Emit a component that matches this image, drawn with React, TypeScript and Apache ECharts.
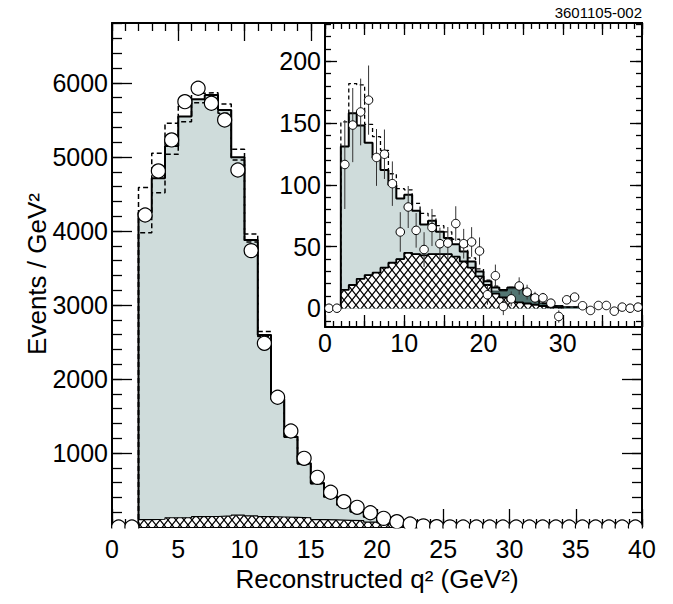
import React, { useEffect, useRef } from "react";
import * as echarts from "echarts";

const FONT = "'Liberation Sans', Arial, Helvetica, sans-serif";

// Bins are 1 GeV^2 wide: index k is the bin [k, k+1].
const mainData = [
  0, 0, 4216, 4811, 5230, 5747, 5928, 5726, 5500, 4824,
  3734, 2482, 1753, 1297, 928, 671, 469, 342, 266, 193,
  117, 72, 40, 15, 4, 2, 0, 0, 0, 0,
  0, 0, 0, 0, 0, 0, 0, 0, 0, 0,
];
const mainTotal = [
  0, 0, 4250, 4712, 5149, 5545, 5780, 5838, 5635, 4996,
  3878, 2595, 1730, 1221, 860, 590, 410, 297, 207, 140,
  81, 42, 20, 9, 4, 2, 0, 0, 0, 0,
  0, 0, 0, 0, 0, 0, 0, 0, 0, 0,
];
const mainUpper = [
  0, 0, 4586, 5050, 5455, 5725, 5860, 5869, 5716, 5104,
  3959, 2640, 1760, 1240, 875, 600, 418, 302, 211, 143,
  83, 43, 21, 10, 4, 2, 0, 0, 0, 0,
  0, 0, 0, 0, 0, 0, 0, 0, 0, 0,
];
const mainLower = [
  0, 0, 3977, 4518, 5036, 5477, 5734, 5790, 5590, 4960,
  3850, 2575, 1720, 1212, 852, 584, 405, 293, 204, 138,
  80, 41, 19, 9, 4, 2, 0, 0, 0, 0,
  0, 0, 0, 0, 0, 0, 0, 0, 0, 0,
];
const mainBkg = [
  0, 0, 100, 105, 125, 128, 140, 142, 150, 160,
  150, 140, 135, 130, 125, 100, 95, 90, 85, 65,
  55, 30, 10, 0, 0, 0, 0, 0, 0, 0,
  0, 0, 0, 0, 0, 0, 0, 0, 0, 0,
];

const insetData = [
  0.2, 0.2, 116.5, 148.4, 159, 168.6, 122.2, 124.8, 101, 61.9,
  82.1, 63.2, 47.7, 65.5, 52.4, 52.9, 68.7, 52.4, 53.8, 46.5,
  11.1, 26.5, 1.6, 7.8, 18.2, 13.2, 8.5, 8.6, 4.3, -6.5,
  7.0, 9.2, 2.2, -1.6, 2.4, 2.4, -2.2, 1.1, 0.2, 1.1,
];
const insetErr = [
  0, 0, 36, 30, 27, 28, 23, 20, 18, 16,
  17, 14, 14, 15, 13, 13, 14, 12, 12, 11,
  8, 9, 7, 6, 7, 6, 5, 4, 3, 5,
  0, 0, 0, 0, 0, 0, 0, 0, 0, 0,
];
const insetTotal = [
  0, 0, 131, 158, 148, 134, 122, 112, 100, 89,
  92, 79, 68, 71, 62, 57, 52, 46, 38, 30,
  22, 17, 15, 17, 17, 12, 7, 4, 2, 2,
  1, 1, 1, 0, 0, 0, 0, 0, 0, 0,
];
const insetUpper = [
  0, 0, 151, 182, 181, 149, 139, 128, 109, 97,
  96, 85, 77, 75, 67, 62, 56, 50, 41, 32,
  23, 18, 15, 17, 17, 12, 7, 4, 2, 2,
  1, 1, 1, 0, 0, 0, 0, 0, 0, 0,
];
const insetBkg = [
  0, 0, 15, 19, 24, 27, 29, 33, 37, 40,
  45, 44, 43, 44, 44, 44, 42, 38, 33, 26,
  19, 12, 9, 6, 5, 4, 3, 2, 1, 1,
  0, 0, 0, 0, 0, 0, 0, 0, 0, 0,
];
const insetTeal = [
  0, 0, 0, 0, 0, 0, 0, 0, 0, 0,
  0, 0, 0, 0, 0, 0, 0, 0, 0, 0,
  0, 2, 5, 10, 11, 7, 4, 2, 1, 1,
  1, 1, 1, 0, 0, 0, 0, 0, 0, 0,
];

const mainXLabels = [0, 5, 10, 15, 20, 25, 30, 35, 40];
const mainYLabels = [1000, 2000, 3000, 4000, 5000, 6000];
const insetXLabels = [0, 10, 20, 30];
const insetYLabels = [0, 50, 100, 150, 200];

const MAIN_YMAX = 6810;
const INSET_YMIN = -15;
const INSET_YMAX = 231;

const LIGHT = "#cfdcdb";
const TEAL = "#527572";

function range(a: number, b: number, step: number) {
  const out: number[] = [];
  for (let v = a; v <= b + 1e-9; v += step) out.push(v);
  return out;
}

function stepPoints(vals: number[], from: number, to: number) {
  const pts: number[][] = [[from, 0]];
  for (let k = from; k < to; k++) {
    pts.push([k, vals[k]], [k + 1, vals[k]]);
  }
  pts.push([to, 0]);
  return pts;
}

function makeHatch() {
  const c = document.createElement("canvas");
  c.width = 8;
  c.height = 10;
  const g = c.getContext("2d")!;
  g.fillStyle = "#fff";
  g.fillRect(0, 0, 8, 10);
  g.strokeStyle = "#000";
  g.lineWidth = 1.2;
  g.beginPath();
  g.moveTo(0, 0);
  g.lineTo(8, 10);
  g.moveTo(8, 0);
  g.lineTo(0, 10);
  g.stroke();
  return c;
}

const plainLabel = (v: number) => String(v);

function axis(
  gridIndex: number,
  position: string,
  min: number,
  max: number,
  ticks: number[],
  tickLen: number,
  showLine: boolean,
  labels?: number[],
  margin = 5
) {
  return {
    type: "value",
    gridIndex,
    position,
    min,
    max,
    axisLine: { show: showLine, onZero: false, lineStyle: { color: "#000", width: 2 } },
    axisTick: {
      show: true,
      inside: true,
      length: tickLen,
      customValues: ticks,
      lineStyle: { color: "#000", width: 1.3 },
    },
    axisLabel: labels
      ? {
          show: true,
          customValues: labels,
          formatter: plainLabel,
          color: "#000",
          fontSize: 25,
          fontFamily: FONT,
          margin,
        }
      : { show: false },
    splitLine: { show: false },
  };
}

export default function App() {
  const ref = useRef<HTMLDivElement>(null);

  useEffect(() => {
    const chart = echarts.init(ref.current!, null, { renderer: "svg" });
    const hatch = {
      image: makeHatch(),
      repeat: "repeat",
      imageWidth: 8,
      imageHeight: 10,
    };

    const lineBase = {
      type: "line",
      symbol: "none",
      showSymbol: false,
      silent: true,
      animation: false,
    };

    const mainX: any = axis(0, "bottom", 0, 40, mainXLabels, 18, true, mainXLabels, 9);
    mainX.name = "Reconstructed q² (GeV²)";
    mainX.nameLocation = "middle";
    mainX.nameGap = 39;
    mainX.nameTextStyle = { fontSize: 26, fontFamily: FONT, color: "#000" };

    const xAxis = [
      mainX,
      axis(0, "bottom", 0, 40, range(0, 40, 1), 8, false),
      axis(0, "top", 0, 40, [0, 5, 10, 15], 18, true),
      axis(0, "top", 0, 40, range(0, 15, 1), 8, false),
      axis(1, "bottom", 0, 40, range(0, 40, 5), 12, true, insetXLabels, 3),
      axis(1, "bottom", 0, 40, range(0, 40, 1), 6, false),
      axis(1, "top", 0, 40, range(0, 40, 5), 12, true),
      axis(1, "top", 0, 40, range(0, 40, 1), 6, false),
    ];

    const yAxis = [
      axis(0, "left", 0, MAIN_YMAX, range(0, 6000, 1000), 20, true, mainYLabels, 4),
      axis(0, "left", 0, MAIN_YMAX, range(0, 6800, 200), 10, false),
      axis(0, "right", 0, MAIN_YMAX, [0, 1000, 2000], 20, true),
      axis(0, "right", 0, MAIN_YMAX, range(0, 2600, 200), 10, false),
      axis(1, "left", INSET_YMIN, INSET_YMAX, insetYLabels, 12, true, insetYLabels, 4),
      axis(1, "left", INSET_YMIN, INSET_YMAX, range(-10, 230, 10), 6, false),
      axis(1, "right", INSET_YMIN, INSET_YMAX, insetYLabels, 12, true),
      axis(1, "right", INSET_YMIN, INSET_YMAX, range(-10, 230, 10), 6, false),
    ];

    const insetStack = insetBkg.map((b, i) => b + insetTeal[i]);

    const series: any[] = [
      // main plot
      {
        ...lineBase,
        xAxisIndex: 0,
        yAxisIndex: 0,
        z: 2,
        data: stepPoints(mainTotal, 2, 26),
        lineStyle: { color: "#000", width: 2 },
        areaStyle: { color: LIGHT, opacity: 1 },
      },
      {
        ...lineBase,
        xAxisIndex: 0,
        yAxisIndex: 0,
        z: 3,
        data: stepPoints(mainBkg, 2, 23),
        lineStyle: { color: "#000", width: 1.2 },
        areaStyle: { color: hatch, opacity: 1 },
      },
      {
        ...lineBase,
        xAxisIndex: 0,
        yAxisIndex: 0,
        z: 4,
        data: stepPoints(mainUpper, 2, 26),
        lineStyle: { color: "#000", width: 1.5, type: [5, 3] },
      },
      {
        ...lineBase,
        xAxisIndex: 0,
        yAxisIndex: 0,
        z: 4,
        data: stepPoints(mainLower, 2, 26),
        lineStyle: { color: "#000", width: 1.5, type: [5, 3] },
      },
      {
        type: "scatter",
        xAxisIndex: 0,
        yAxisIndex: 0,
        z: 6,
        silent: true,
        symbol: "circle",
        symbolSize: 14,
        data: mainData.map((v, k) => [k + 0.5, v]),
        itemStyle: { color: "#fff", borderColor: "#000", borderWidth: 1.2, opacity: 1 },
      },
      // inset
      {
        ...lineBase,
        xAxisIndex: 4,
        yAxisIndex: 4,
        z: 2,
        data: stepPoints(insetTotal, 2, 33),
        lineStyle: { color: "#000", width: 2 },
        areaStyle: { color: LIGHT, opacity: 1 },
      },
      {
        ...lineBase,
        xAxisIndex: 4,
        yAxisIndex: 4,
        z: 3,
        data: stepPoints(insetStack, 2, 33),
        lineStyle: { color: "#1d2b2a", width: 1 },
        areaStyle: { color: TEAL, opacity: 1 },
      },
      {
        ...lineBase,
        xAxisIndex: 4,
        yAxisIndex: 4,
        z: 4,
        data: stepPoints(insetBkg, 2, 30),
        lineStyle: { color: "#000", width: 1.8 },
        areaStyle: { color: hatch, opacity: 1 },
      },
      {
        ...lineBase,
        xAxisIndex: 4,
        yAxisIndex: 4,
        z: 5,
        data: stepPoints(insetUpper, 2, 33),
        lineStyle: { color: "#000", width: 1.3, type: [4, 3] },
      },
      {
        type: "custom",
        xAxisIndex: 4,
        yAxisIndex: 4,
        z: 6,
        silent: true,
        data: insetData
          .map((v, k) => [k + 0.5, v, insetErr[k]])
          .filter((d) => d[2] > 0),
        encode: { x: 0, y: 1 },
        renderItem: (_params: any, api: any) => {
          const x = api.value(0);
          const y = api.value(1);
          const e = api.value(2);
          const p1 = api.coord([x, y - e]);
          const p2 = api.coord([x, y + e]);
          return {
            type: "line",
            shape: { x1: p1[0], y1: p1[1], x2: p2[0], y2: p2[1] },
            style: { stroke: "#333", lineWidth: 1 },
          };
        },
      },
      {
        type: "scatter",
        xAxisIndex: 4,
        yAxisIndex: 4,
        z: 7,
        silent: true,
        symbol: "circle",
        symbolSize: 8.5,
        data: insetData.map((v, k) => [k + 0.5, v]),
        itemStyle: { color: "#fff", borderColor: "#000", borderWidth: 1, opacity: 1 },
      },
    ];

    chart.setOption({
      animation: false,
      backgroundColor: "#fff",
      textStyle: { fontFamily: FONT },
      grid: [
        { left: 112, top: 23, width: 530, height: 504, containLabel: false },
        { left: 325, top: 23, width: 317, height: 304, containLabel: false },
      ],
      xAxis,
      yAxis,
      series,
      graphic: [
        {
          type: "rect",
          z: 50,
          silent: true,
          shape: { x: 100, y: 528.5, width: 560, height: 8 },
          style: { fill: "#fff" },
        },
        {
          type: "text",
          z: 60,
          x: 642,
          y: 12,
          silent: true,
          style: {
            text: "3601105-002",
            fontSize: 15,
            fontFamily: FONT,
            fill: "#000",
            align: "right",
            verticalAlign: "middle",
            textAlign: "right",
            textVerticalAlign: "middle",
          },
        },
        {
          type: "text",
          z: 60,
          x: 37,
          y: 274,
          rotation: Math.PI / 2,
          silent: true,
          style: {
            text: "Events / GeV²",
            fontSize: 26,
            fontFamily: FONT,
            fill: "#000",
            align: "center",
            verticalAlign: "middle",
            textAlign: "center",
            textVerticalAlign: "middle",
          },
        },
      ],
    });

    return () => chart.dispose();
  }, []);

  return (
    <div
      ref={ref}
      style={{
        position: "fixed",
        left: 0,
        top: 0,
        width: 673,
        height: 604,
        background: "#fff",
      }}
    />
  );
}
